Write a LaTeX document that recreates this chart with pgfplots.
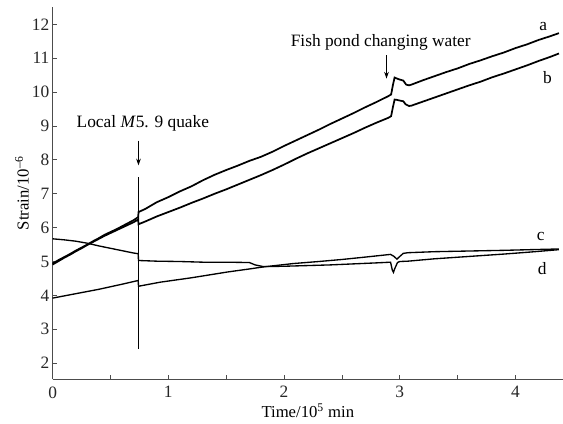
\documentclass[border=0pt]{standalone}
\usepackage{fontspec}
\setmainfont{Liberation Serif}
\usepackage{pgfplots}
\pgfplotsset{compat=1.18}
\usetikzlibrary{arrows.meta}
\begin{document}
\begin{tikzpicture}[font=\fontsize{12.5}{14}\selectfont]
\begin{axis}[
  width=382.3pt, height=278.4pt, scale only axis,
  xmin=0, xmax=4.41, ymin=1.53, ymax=12.5,
  axis x line=bottom, axis y line=left,
  axis line style={-, black!70, line width=0.8pt},
  tick align=inside, major tick length=3pt, minor tick length=3pt,
  tick style={black!70, line width=0.6pt},
  xtick={0,1,2,3,4}, minor xtick={0.5,1.5,2.5,3.5},
  ytick={2,3,4,5,6,7,8,9,10,11,12},
  /pgf/number format/assume math mode=true,
  tick label style={font=\fontsize{13}{15}\selectfont, text=black!85},
  yticklabel style={xshift=1pt},
  xticklabel style={yshift=-2pt},
  xlabel={Time/10\textsuperscript{5} min},
  ylabel={Strain/10\textsuperscript{–6}},
  every axis x label/.style={at={(rel axis cs:0.5,0)}, anchor=base, yshift=-29pt},
  every axis y label/.style={at={(rel axis cs:0,0.5)}, xshift=-23pt, rotate=90, anchor=center},
  clip=false,
]
% curve a
\addplot[black, line width=1.3pt] coordinates {
(0,4.94) (0.05,5.04) (0.1,5.13) (0.15,5.22) (0.2,5.32) (0.25,5.41) (0.3,5.50) (0.35,5.60)
(0.4,5.69) (0.45,5.79) (0.5,5.87) (0.55,5.95) (0.6,6.04) (0.65,6.13) (0.7,6.22) (0.74,6.31)
(0.742,6.46) (0.8,6.55) (0.9,6.75) (1.0,6.90) (1.1,7.07) (1.2,7.22) (1.3,7.40) (1.4,7.56)
(1.5,7.70) (1.6,7.83) (1.7,7.97) (1.8,8.09) (1.9,8.24) (2.0,8.41) (2.1,8.57) (2.2,8.73)
(2.3,8.89) (2.4,9.06) (2.5,9.22) (2.6,9.38) (2.7,9.55) (2.8,9.71) (2.9,9.88) (2.925,9.93)
(2.94,10.2) (2.955,10.43) (2.975,10.40) (3.0,10.37) (3.03,10.34) (3.055,10.22) (3.08,10.2)
(3.1,10.22) (3.2,10.35) (3.3,10.47) (3.4,10.59) (3.5,10.70) (3.6,10.83) (3.7,10.94)
(3.8,11.06) (3.9,11.17) (4.0,11.30) (4.1,11.41) (4.2,11.54) (4.3,11.65) (4.375,11.74)
};
% curve b
\addplot[black, line width=1.3pt] coordinates {
(0,4.91) (0.05,5.01) (0.1,5.11) (0.15,5.20) (0.2,5.30) (0.25,5.39) (0.3,5.49) (0.35,5.58)
(0.4,5.67) (0.45,5.76) (0.5,5.84) (0.55,5.92) (0.6,6.00) (0.65,6.08) (0.7,6.16) (0.74,6.24)
(0.742,6.10) (0.8,6.18) (0.9,6.33) (1.0,6.46) (1.1,6.59) (1.2,6.73) (1.3,6.86) (1.4,7.00)
(1.5,7.13) (1.6,7.27) (1.7,7.41) (1.8,7.55) (1.9,7.70) (2.0,7.86) (2.1,8.03) (2.2,8.19)
(2.3,8.34) (2.4,8.49) (2.5,8.64) (2.6,8.79) (2.7,8.95) (2.8,9.10) (2.9,9.24) (2.925,9.29)
(2.94,9.55) (2.955,9.78) (2.975,9.77) (3.0,9.75) (3.03,9.73) (3.05,9.64) (3.08,9.59)
(3.1,9.60) (3.2,9.72) (3.3,9.84) (3.4,9.96) (3.5,10.08) (3.6,10.20) (3.7,10.31)
(3.8,10.44) (3.9,10.55) (4.0,10.67) (4.1,10.79) (4.2,10.92) (4.3,11.04) (4.375,11.14)
};
% curve c
\addplot[black, line width=1pt] coordinates {
(0,5.67) (0.1,5.64) (0.2,5.60) (0.3,5.54) (0.4,5.46) (0.5,5.39) (0.6,5.32) (0.7,5.25) (0.74,5.23)
(0.742,5.03) (0.9,5.01) (1.1,5.00) (1.3,4.98) (1.5,4.98) (1.7,4.97) (1.75,4.90) (1.82,4.85)
(2.0,4.86) (2.2,4.88) (2.4,4.90) (2.6,4.93) (2.8,4.96) (2.92,4.98) (2.935,4.75) (2.945,4.68)
(2.955,4.78) (2.98,4.97) (3.0,5.00) (3.07,5.01) (3.3,5.08) (3.6,5.15) (3.9,5.22) (4.13,5.28) (4.375,5.35)
};
% curve d
\addplot[black, line width=1pt] coordinates {
(0,3.92) (0.2,4.05) (0.4,4.18) (0.6,4.33) (0.74,4.44)
(0.742,4.27) (0.93,4.39) (1.2,4.52) (1.51,4.69) (1.7,4.78) (1.82,4.84) (2.08,4.94)
(2.3,5.00) (2.5,5.06) (2.7,5.13) (2.92,5.21) (2.95,5.15) (2.975,5.07) (3.0,5.15)
(3.03,5.24) (3.07,5.26) (3.3,5.29) (3.6,5.31) (3.9,5.33) (4.13,5.35) (4.375,5.37)
};
% quake line
\addplot[black, line width=0.8pt] coordinates {(0.742,2.43) (0.742,7.5)};
\draw[black, line width=0.6pt, -{Stealth[length=5pt,width=3.5pt]}] (axis cs:0.742,8.57) -- (axis cs:0.742,7.84);
\node[font=\fontsize{13}{15}\selectfont] at (axis cs:0.78,9.07) {Local \textit{M}5. 9 quake};
\draw[black, line width=0.6pt, -{Stealth[length=5pt,width=3.5pt]}] (axis cs:2.885,11.09) -- (axis cs:2.885,10.4);
\node[font=\fontsize{13}{15}\selectfont] at (axis cs:2.835,11.46) {Fish pond changing water};
\node[font=\fontsize{13}{15}\selectfont] at (axis cs:4.24,11.95) {a};
\node[font=\fontsize{13}{15}\selectfont] at (axis cs:4.275,10.43) {b};
\node[font=\fontsize{13}{15}\selectfont] at (axis cs:4.217,5.74) {c};
\node[font=\fontsize{13}{15}\selectfont] at (axis cs:4.23,4.79) {d};
\coordinate (sw) at (rel axis cs:0,0);
\coordinate (ne) at (rel axis cs:1,1);
\end{axis}
\pgfresetboundingbox
\path[use as bounding box] ([shift={(-39.4pt,-33.2pt)}]sw) rectangle ([shift={(0pt,5.55pt)}]ne);
\end{tikzpicture}
\end{document}
